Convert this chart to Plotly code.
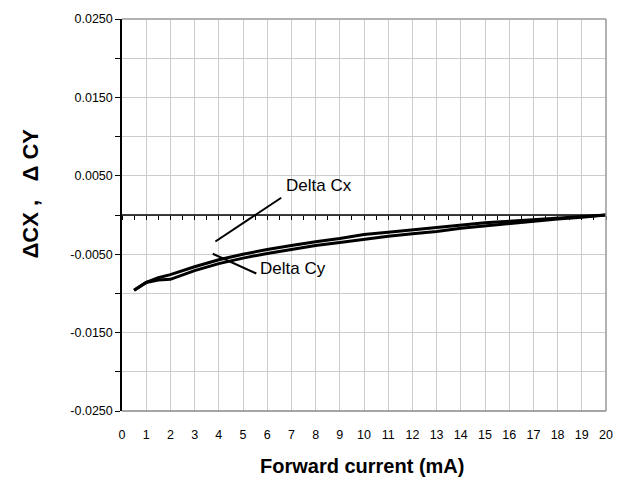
import plotly.graph_objects as go

current = [0.5, 1, 1.5, 2, 3, 4, 5, 6, 7, 8, 9, 10, 11, 12, 13, 14, 15, 16, 17, 18, 19, 20]
delta_cx = [-0.0096, -0.0086, -0.0080, -0.0076, -0.0066, -0.0057, -0.0050, -0.0044, -0.0039,
            -0.0034, -0.0030, -0.0025, -0.0022, -0.0019, -0.0016, -0.0013, -0.0010, -0.0008,
            -0.0006, -0.0004, -0.0002, 0.0]
delta_cy = [-0.0096, -0.0086, -0.0083, -0.0082, -0.0071, -0.0062, -0.0055, -0.0049, -0.0044,
            -0.0039, -0.0035, -0.0031, -0.0027, -0.0024, -0.0021, -0.0017, -0.0014, -0.0011,
            -0.0008, -0.0005, -0.0003, 0.0]

x_ticks = list(range(0, 21))
y_tickvals = [-0.025, -0.02, -0.015, -0.01, -0.005, 0, 0.005, 0.01, 0.015, 0.02, 0.025]
y_ticktext = ["-0.0250", "", "-0.0150", "", "-0.0050", "", "0.0050", "", "0.0150", "", "0.0250"]
minor_ticks = [i * 0.5 for i in range(0, 41)]

FONT = "Liberation Sans, Arial, sans-serif"

fig = go.Figure()
fig.add_trace(go.Scatter(x=current, y=delta_cx, mode="lines", name="Delta Cx",
                         line=dict(color="black", width=3)))
fig.add_trace(go.Scatter(x=current, y=delta_cy, mode="lines", name="Delta Cy",
                         line=dict(color="black", width=3)))
# zero line carried by an overlay axis that gives the small hanging ticks
fig.add_trace(go.Scatter(x=[0, 20], y=[0, 0], mode="lines", xaxis="x2", yaxis="y",
                         line=dict(color="black", width=1.5), hoverinfo="skip"))

fig.update_layout(
    width=629, height=481,
    margin=dict(l=122, r=23, t=15, b=70),
    paper_bgcolor="white", plot_bgcolor="white",
    showlegend=False,
    font=dict(family=FONT, size=12, color="black"),
    xaxis=dict(
        range=[0, 20], tickvals=x_ticks, ticktext=[str(v) for v in x_ticks],
        showgrid=True, gridcolor="#cccccc", gridwidth=1,
        zeroline=False, showline=False, ticks="",
        ticklabelstandoff=14,
        tickfont=dict(family=FONT, size=12.5),
    ),
    xaxis2=dict(
        range=[0, 20], overlaying="x", anchor="free", position=0.5, side="bottom",
        tickvals=minor_ticks, ticks="outside", ticklen=4, tickcolor="black", tickwidth=1,
        showticklabels=False, showgrid=False, zeroline=False, showline=False,
    ),
    yaxis=dict(
        range=[-0.025, 0.025], tickvals=y_tickvals, ticktext=y_ticktext,
        showgrid=True, gridcolor="#cccccc", gridwidth=1,
        zeroline=False, showline=True, linecolor="black", linewidth=1.5,
        ticks="outside", ticklen=5, tickcolor="black",
        tickfont=dict(family=FONT, size=12.5),
    ),
    shapes=[
        dict(type="line", xref="paper", yref="paper", x0=0, x1=1, y0=1, y1=1,
             line=dict(color="#999999", width=1.5)),
        dict(type="line", xref="paper", yref="paper", x0=1, x1=1, y0=0, y1=1,
             line=dict(color="#999999", width=1.5)),
        dict(type="line", xref="paper", yref="paper", x0=0, x1=1, y0=0, y1=0,
             line=dict(color="#888888", width=1.5)),
        dict(type="line", xref="x", yref="y", x0=3.86, y0=-0.00338, x1=6.58, y1=0.0022,
             line=dict(color="black", width=2)),
        dict(type="line", xref="x", yref="y", x0=3.75, y0=-0.00494, x1=5.55, y1=-0.00746,
             line=dict(color="black", width=2)),
    ],
    annotations=[
        dict(x=6.68, y=0.0038, xref="x", yref="y", text="Delta Cx", showarrow=False,
             xanchor="left", yanchor="middle", font=dict(family=FONT, size=17)),
        dict(x=5.64, y=-0.0068, xref="x", yref="y", text="Delta Cy", showarrow=False,
             xanchor="left", yanchor="middle", font=dict(family=FONT, size=17)),
        dict(x=0.495, y=-0.141, xref="paper", yref="paper", text="<b>Forward current (mA)</b>",
             showarrow=False, xanchor="center", yanchor="middle",
             font=dict(family=FONT, size=20)),
        dict(x=-0.19, y=0.555, xref="paper", yref="paper",
             text="<b>ΔCX ,\u00a0\u00a0\u00a0Δ CY</b>", textangle=-90,
             showarrow=False, xanchor="center", yanchor="middle",
             font=dict(family=FONT, size=22)),
    ],
)

fig.write_html("out.html")
